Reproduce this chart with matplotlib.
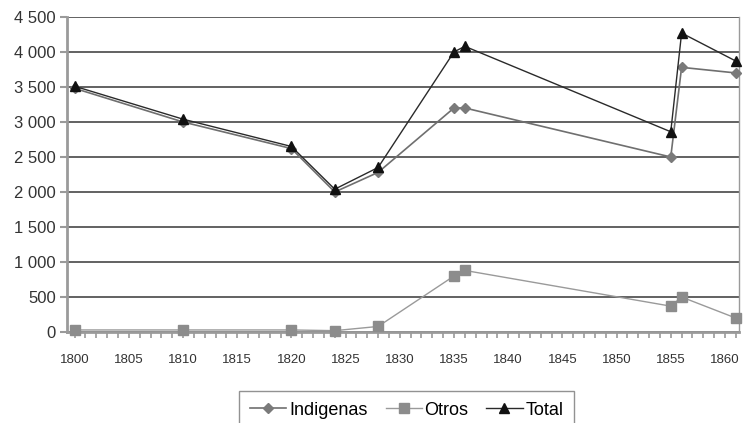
import matplotlib.pyplot as plt
from matplotlib.ticker import FuncFormatter, MultipleLocator

plt.rcParams['font.family'] = ['Liberation Sans', 'DejaVu Sans']

years = [1800, 1810, 1820, 1824, 1828, 1835, 1836, 1855, 1856, 1861]
indigenas = [3480, 3000, 2620, 2000, 2280, 3200, 3200, 2500, 3780, 3700]
otros = [30, 30, 30, 20, 80, 800, 880, 370, 500, 200]
total = [3510, 3040, 2650, 2040, 2350, 4000, 4080, 2860, 4270, 3870]

fig = plt.figure(figsize=(7.45, 4.23), dpi=100)
ax = fig.add_axes([0.09, 0.215, 0.902, 0.745])

ax.plot(years, indigenas, color='#6f6f6f', lw=1.2, marker='D', ms=5,
        mfc='#7a7a7a', mec='#7a7a7a', label='Indigenas', clip_on=False, zorder=3)
ax.plot(years, otros, color='#9a9a9a', lw=1.0, marker='s', ms=7,
        mfc='#8c8c8c', mec='#8c8c8c', label='Otros', clip_on=False, zorder=3)
ax.plot(years, total, color='#2a2a2a', lw=1.0, marker='^', ms=6.5,
        mfc='#111111', mec='#111111', label='Total', clip_on=False, zorder=4)

ax.set_xlim(1799.3, 1861.3)
ax.set_ylim(0, 4500)
ax.xaxis.set_major_locator(MultipleLocator(5))
ax.xaxis.set_minor_locator(MultipleLocator(1))
ax.yaxis.set_major_locator(MultipleLocator(500))
ax.yaxis.set_major_formatter(FuncFormatter(lambda v, p: f"{int(v):,}".replace(',', ' ')))

ax.grid(axis='y', color='#555555', lw=1.3)
ax.set_axisbelow(True)
ax.spines['top'].set_visible(False)
ax.spines['left'].set_color('#9a9a9a')
ax.spines['left'].set_linewidth(2)
ax.spines['bottom'].set_color('#9a9a9a')
ax.spines['bottom'].set_linewidth(2)
ax.spines['right'].set_color('#9a9a9a')
ax.spines['right'].set_linewidth(1)

ax.tick_params(axis='y', length=5, width=1.5, color='#9a9a9a', labelsize=12,
               labelcolor='#333333', pad=3)
ax.tick_params(axis='x', which='both', length=4, width=1.2, color='#9a9a9a',
               labelsize=9.5, labelcolor='#333333', pad=12)

fig.legend(loc='upper center', bbox_to_anchor=(0.546, 0.076), ncol=3,
           frameon=True, fancybox=False, edgecolor='#777777', fontsize=13,
           handlelength=2.0, columnspacing=1.0, handletextpad=0.15,
           borderpad=0.6, borderaxespad=0)

plt.savefig('out.png', dpi=100)
plt.close()
